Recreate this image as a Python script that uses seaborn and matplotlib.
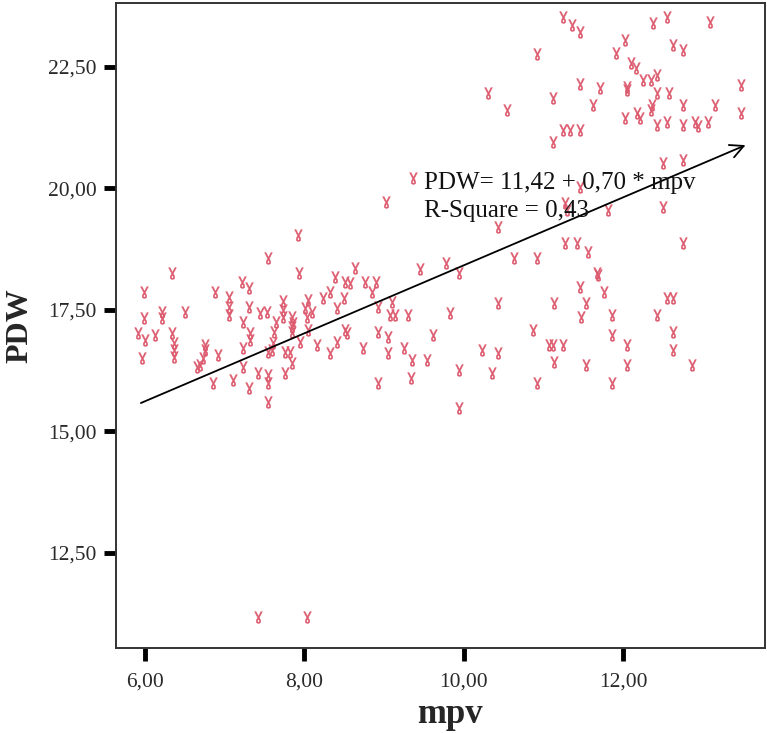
import matplotlib
matplotlib.use("Agg")
import matplotlib.pyplot as plt
import seaborn as sns
import numpy as np
import pandas as pd

# ---- data ----
mpv = [
    7.92, 7.54, 6.34, 7.93, 7.22, 7.30, 5.99, 6.88, 7.05, 8.05, 7.73, 7.05, 7.30, 6.50, 6.21,
    7.44, 7.53, 7.73, 8.01, 8.10, 5.99, 6.21, 7.84, 8.03, 7.64, 7.86, 7.23, 5.91, 6.13, 6.34,
    6.00, 7.32, 7.62, 7.84, 8.05, 7.32, 6.36, 6.75, 7.94, 8.16, 6.36, 6.75, 7.23, 7.54, 7.59,
    7.76, 7.82, 6.36, 6.92, 5.96, 6.73, 6.69, 6.65, 7.23, 7.84, 6.85, 7.10, 7.30, 7.42, 7.54,
    7.54, 7.54, 7.76, 7.73, 7.84, 7.61, 7.05,
    10.43, 8.63, 9.45, 9.78, 9.94, 8.38, 8.51, 8.57, 8.76, 8.90, 8.32, 8.23, 8.50, 8.85, 8.41,
    9.10, 8.92, 9.07, 9.14, 9.30, 9.83, 10.43, 8.51, 8.53, 8.92, 9.05, 9.61, 8.41, 8.74,
    8.32, 9.05, 9.25, 9.35, 9.54, 10.23, 10.43, 9.94, 10.35, 8.92, 9.34, 9.94,
    11.24, 11.36, 11.45, 12.37, 12.54, 13.09, 10.92, 12.02, 11.91, 12.62, 12.75, 12.09, 12.16,
    12.24, 12.34, 12.42, 11.45, 11.70, 12.04, 12.05, 12.42, 12.57, 13.47, 11.11, 11.62, 12.36,
    12.34, 12.75, 13.15, 13.47, 10.54, 12.02, 12.17, 12.21, 12.42, 12.55, 12.74, 12.90, 12.93,
    13.06, 11.24, 11.33, 11.45, 11.12, 12.50, 12.75, 11.45, 10.30, 9.36, 9.02,
    11.27, 11.29, 11.81, 12.50, 11.27, 11.42, 11.56, 12.75, 10.63, 10.92, 11.67, 11.68, 11.45,
    11.76, 11.13, 11.53, 12.55, 12.62, 11.47, 11.86, 12.42, 10.87, 11.86, 12.62, 11.06, 11.12,
    11.24, 12.05, 12.62, 11.13, 11.53, 12.05, 12.86, 10.92, 11.86,
    7.42, 8.03,
]
pdw = [
    19.04, 18.57, 18.26, 18.26, 18.08, 17.95, 17.87, 17.87, 17.77, 17.71, 17.69, 17.56, 17.56, 17.46, 17.46,
    17.44, 17.46, 17.50, 17.54, 17.46, 17.34, 17.34, 17.36, 17.36, 17.25, 17.23, 17.25, 17.03, 16.99, 17.03,
    16.88, 17.03, 17.05, 17.05, 17.09, 16.88, 16.82, 16.78, 16.84, 16.78, 16.68, 16.68, 16.72, 16.64, 16.68,
    16.64, 16.64, 16.53, 16.57, 16.51, 16.51, 16.37, 16.33, 16.33, 16.41, 16.00, 16.06, 15.89, 16.20, 16.16,
    16.00, 15.61, 16.20, 17.36, 17.15, 16.82, 17.40,
    19.21, 18.36, 18.34, 18.47, 18.26, 18.18, 18.08, 18.06, 18.08, 18.08, 17.87, 17.75, 17.75, 17.87, 17.54,
    17.66, 17.56, 17.40, 17.40, 17.40, 17.44, 17.64, 17.09, 17.03, 17.05, 16.94, 16.99, 16.84, 16.72,
    16.62, 16.62, 16.72, 16.47, 16.47, 16.68, 16.62, 16.27, 16.20, 16.00, 16.10, 15.48,
    23.53, 23.36, 23.22, 23.41, 23.53, 23.43, 22.77, 23.06, 22.79, 22.95, 22.85, 22.58, 22.48,
    22.23, 22.23, 22.34, 22.15, 22.07, 22.09, 22.03, 21.96, 21.96, 22.13, 21.86, 21.72, 21.72,
    21.62, 21.72, 21.72, 21.55, 21.62, 21.45, 21.55, 21.45, 21.31, 21.37, 21.31, 21.37, 21.29,
    21.37, 21.20, 21.20, 21.20, 20.96, 20.52, 20.59, 20.03, 21.96, 20.22, 19.72,
    19.70, 19.56, 19.56, 19.62, 18.88, 18.88, 18.69, 18.88, 18.57, 18.57, 18.26, 18.22, 17.97,
    17.87, 17.64, 17.64, 17.75, 17.75, 17.36, 17.40, 17.40, 17.09, 16.99, 17.05, 16.78, 16.78,
    16.78, 16.78, 16.68, 16.43, 16.37, 16.37, 16.37, 16.00, 16.00,
    11.18, 11.18,
]
fit_intercept = 11.42
fit_slope = 0.70
r_square = 0.43

x_ticks = [6, 8, 10, 12]
x_ticklabels = ["6,00", "8,00", "10,00", "12,00"]
y_ticks = [12.5, 15, 17.5, 20, 22.5]
y_ticklabels = ["12,50", "15,00", "17,50", "20,00", "22,50"]

df = pd.DataFrame({"mpv": mpv, "PDW": pdw})

sns.set_theme(style="white")
plt.rcParams["font.family"] = ["Liberation Serif", "DejaVu Serif"]

fig = plt.figure(figsize=(7.67, 7.33), dpi=100)
ax = fig.add_axes([0.151, 0.116, 0.846, 0.880])

sns.scatterplot(data=df, x="mpv", y="PDW", marker="$\\mathrm{\u0263}$", s=70,
                color="#dd5a6e", edgecolor="#dd5a6e", linewidth=0.35,
                ax=ax, legend=False)

# fitted line with arrow head
x0, x1 = min(mpv), max(mpv)
ax.annotate("", xy=(x1 + 0.06, fit_intercept + fit_slope * (x1 + 0.06)),
            xytext=(x0 + 0.04, fit_intercept + fit_slope * (x0 + 0.04)),
            arrowprops=dict(arrowstyle="->", color="black", lw=1.3,
                            mutation_scale=24, shrinkA=0, shrinkB=0))

eq = "PDW= {:.2f} + {:.2f} * mpv".format(fit_intercept, fit_slope).replace(".", ",")
rs = "R-Square = {:.2f}".format(r_square).replace(".", ",")
ax.text(9.5, 20.12, eq, fontsize=18, va="center", ha="left", color="#111111")
ax.text(9.5, 19.53, rs, fontsize=18, va="center", ha="left", color="#111111")

ax.set_xlim(5.636, 13.77)
ax.set_ylim(10.545, 23.817)
ax.set_xticks(x_ticks)
ax.set_xticklabels(x_ticklabels)
ax.set_yticks(y_ticks)
ax.set_yticklabels(y_ticklabels)
ax.tick_params(axis="both", direction="out", length=9, width=3.5, color="black",
               labelsize=15.5, labelcolor="#2a2a2a", bottom=True, left=True,
               top=False, right=False)
ax.tick_params(axis="x", pad=9)
ax.tick_params(axis="y", pad=5)
for sp in ax.spines.values():
    sp.set_color("#333333")
    sp.set_linewidth(1.4)

ax.set_xlabel("mpv", fontsize=25, fontweight="bold")
ax.set_ylabel("PDW", fontsize=23, fontweight="bold")
ax.xaxis.set_label_coords(0.515, -0.078)
ax.yaxis.set_label_coords(-0.125, 0.5)
ax.grid(False)

fig.savefig("out.png", dpi=100)
